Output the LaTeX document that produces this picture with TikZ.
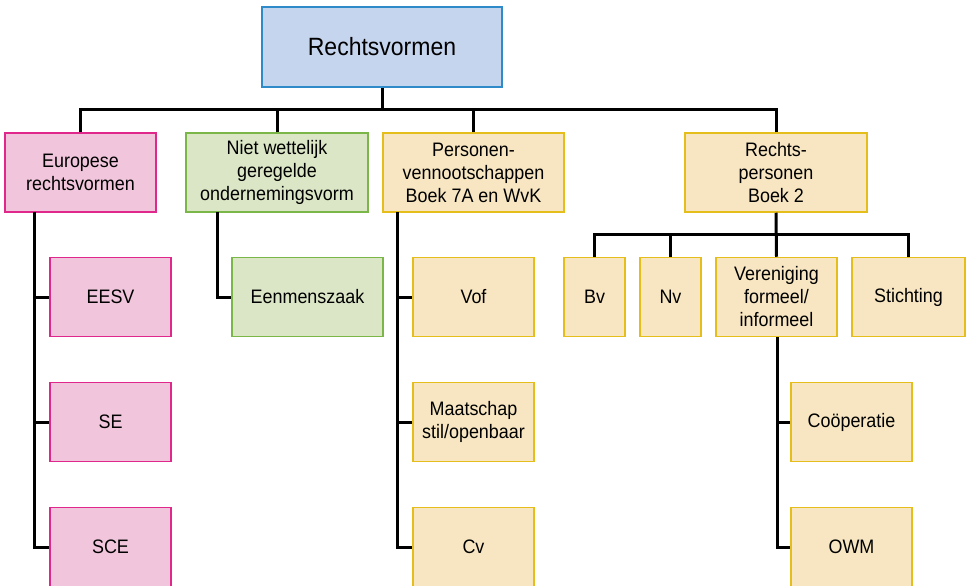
\documentclass[tikz,border=0pt]{standalone}
\usepackage{fontspec}
\setmainfont[FakeStretch=0.92]{Liberation Sans}
\usepackage{tikz}
\usetikzlibrary{positioning}
\definecolor{blueF}{HTML}{C6D5EE}
\definecolor{blueD}{HTML}{2F8AC9}
\definecolor{pinkF}{HTML}{F1C6DD}
\definecolor{pinkD}{HTML}{E0288C}
\definecolor{greenF}{HTML}{DBE6C6}
\definecolor{greenD}{HTML}{7AB648}
\definecolor{yellowF}{HTML}{F7E6C1}
\definecolor{yellowD}{HTML}{E6BE1C}
\tikzstyle{box}=[draw,line width=1.5pt,align=center,inner sep=0pt,minimum height=79pt,
  font=\fontsize{19.5}{23}\selectfont]
\tikzstyle{top}=[box,fill=blueF,draw=blueD,minimum width=240pt,minimum height=80pt,
  font=\fontsize{25}{30}\selectfont]
\tikzstyle{eu}=[box,fill=pinkF,draw=pinkD]
\tikzstyle{nw}=[box,fill=greenF,draw=greenD]
\tikzstyle{yl}=[box,fill=yellowF,draw=yellowD]
\tikzstyle{conn}=[line width=3pt,black]

\begin{document}
\begin{tikzpicture}[x=1pt,y=-1pt]
    \useasboundingbox (0,0) rectangle (966,586);
    % top
    \node[top] (rv) at (382,47) {Rechtsvormen};
    % first level
    \node[eu,minimum width=151pt] (euro) at (80.5,172.5) {Europese\\rechtsvormen};
    \node[nw,minimum width=182pt] (niet) at (277,172.5) {Niet wettelijk\\geregelde\\ondernemingsvorm};
    \node[yl,minimum width=181pt] (pers) at (473.5,172.5) {Personen-\\vennootschappen\\Boek 7A en WvK};
    \node[yl,minimum width=182pt] (rp) at (776,172.5) {Rechts-\\personen\\Boek 2};
    % europese
    \node[eu,minimum width=121pt] (eesv) at (110.5,297) {EESV};
    \node[eu,minimum width=121pt] (se) at (110.5,422) {SE};
    \node[eu,minimum width=121pt] (sce) at (110.5,547) {SCE};
    % niet wettelijk
    \node[nw,minimum width=151pt] (een) at (307.5,297) {Eenmenszaak};
    % personen
    \node[yl,minimum width=121pt] (vof) at (473.5,297) {Vof};
    \node[yl,minimum width=121pt] (maat) at (473.5,422) {Maatschap\\stil/openbaar};
    \node[yl,minimum width=121pt] (cv) at (473.5,547) {Cv};
    % rechtspersonen
    \node[yl,minimum width=61pt] (bv) at (594.5,297) {Bv};
    \node[yl,minimum width=61pt] (nv) at (670.5,297) {Nv};
    \node[yl,minimum width=121pt] (ver) at (776.5,297) {Vereniging\\formeel/\\informeel};
    \node[yl,minimum width=113pt] (sti) at (908.5,297) {Stichting};
    \node[yl,minimum width=121pt] (coop) at (851.5,422) {Coöperatie};
    \node[yl,minimum width=121pt] (owm) at (851.5,547) {OWM};

    % connectors
    \coordinate (bus) at (382,109);
    \draw[conn] (rv.south) -- (bus);
    \foreach \n in {euro,niet,pers,rp}
      \draw[conn] (\n.north) |- (bus);
    \coordinate (rbus) at (776,234);
    \draw[conn] (rp.south) -- (ver.north);
    \foreach \n in {bv,nv,sti}
      \draw[conn] (\n.north) |- (rbus);
    \coordinate (eustem) at (34,212);
    \foreach \n in {eesv,se,sce}
      \draw[conn] (eustem) |- (\n.west);
    \coordinate (nwstem) at (217,212);
    \draw[conn] (nwstem) |- (een.west);
    \coordinate (pstem) at (397,212);
    \foreach \n in {vof,maat,cv}
      \draw[conn] (pstem) |- (\n.west);
    \coordinate (vstem) at (777,337);
    \foreach \n in {coop,owm}
      \draw[conn] (vstem) |- (\n.west);
  \end{tikzpicture}
\end{document}
